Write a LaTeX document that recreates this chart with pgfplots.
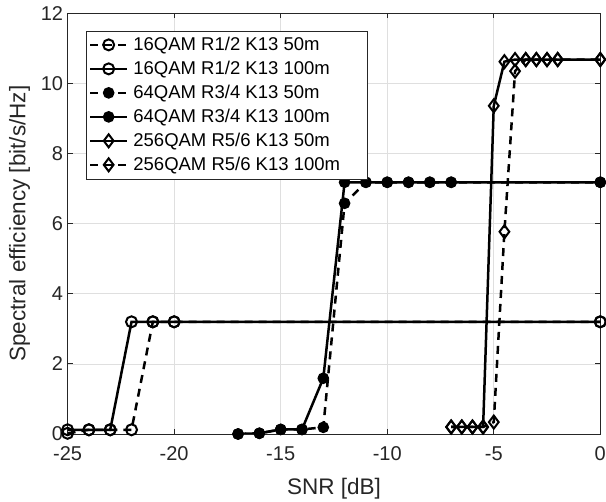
\documentclass[border=0pt]{standalone}
\usepackage{fontspec}
\setmainfont{Liberation Sans}
\usepackage{pgfplots}
\pgfplotsset{compat=1.18}
\definecolor{axgray}{RGB}{38,38,38}
\definecolor{gridgray}{RGB}{223,223,223}

\begin{document}
\begin{tikzpicture}
\begin{axis}[
  scale only axis, width=532.7pt, height=420.7pt,
  xmin=-25, xmax=0, ymin=0, ymax=12,
  xtick={-25,-20,...,0}, ytick={0,2,...,12},
  grid=major, major grid style={gridgray, line width=0.7pt},
  axis line style={axgray, line width=0.8pt},
  tick style={axgray, line width=0.8pt}, major tick length=5pt,
  tick align=inside,
  ticklabel style={font=\fontsize{20}{23}\selectfont, text=axgray},
  xticklabel style={yshift=-9pt},
  yticklabel style={xshift=-1pt},
  /pgf/number format/assume math mode=true,
  xlabel={SNR [dB]}, ylabel={Spectral efficiency [bit/s/Hz]},
  label style={font=\fontsize{22.5}{26}\selectfont, text=axgray},
  xlabel style={yshift=-11pt},
  ylabel shift=4pt,
  legend style={at={(0.034,0.9587)}, anchor=north west,
    font=\fontsize{18.5}{21}\selectfont, draw=axgray, text=black,
    inner xsep=3pt, inner ysep=2pt,
    nodes={text height=15.5pt, text depth=3.5pt, inner ysep=2.5pt},
    /tikz/every odd column/.append style={column sep=3pt}},
  legend cell align=left,
  legend image code/.code={\draw[mark repeat=2, mark phase=2, #1]
    plot coordinates {(0pt,0pt) (18.5pt,0pt) (37pt,0pt)};},
  every axis plot/.append style={black, line width=2.5pt, mark options={solid, line width=2pt}},
]
\addplot[dash pattern=on 8pt off 6pt, mark=o, mark size=5.5pt] coordinates {
  (-25,0.02) (-24,0.12) (-23,0.12) (-22,0.12) (-21,3.2) (-20,3.2) (0,3.2)};
\addlegendentry{16QAM R1/2 K13 50m}
\addplot[mark=o, mark size=5.5pt] coordinates {
  (-25,0.12) (-24,0.12) (-23,0.12) (-22,3.2) (-21,3.2) (-20,3.2) (0,3.2)};
\addlegendentry{16QAM R1/2 K13 100m}
\addplot[dash pattern=on 8pt off 6pt, mark=*, mark size=4.8pt] coordinates {
  (-17,0.0) (-16,0.02) (-15,0.13) (-14,0.13) (-13,0.19) (-12,6.58) (-11,7.18)
  (-10,7.18) (-9,7.18) (-8,7.18) (-7,7.18) (0,7.18)};
\addlegendentry{64QAM R3/4 K13 50m}
\addplot[mark=*, mark size=4.8pt] coordinates {
  (-17,0.0) (-16,0.02) (-15,0.13) (-14,0.13) (-13,1.59) (-12,7.18) (-11,7.18)
  (-10,7.18) (-9,7.18) (-8,7.18) (-7,7.18) (0,7.18)};
\addlegendentry{64QAM R3/4 K13 100m}
\addplot[mark=diamond, mark size=6.5pt] coordinates {
  (-7,0.2) (-6.5,0.2) (-6,0.2) (-5.5,0.2) (-5,9.36) (-4.5,10.62) (-4,10.68)
  (-3.5,10.68) (-3,10.68) (-2.5,10.68) (-2,10.68) (0,10.68)};
\addlegendentry{256QAM R5/6 K13 50m}
\addplot[dash pattern=on 8pt off 6pt, mark=diamond, mark size=6.5pt] coordinates {
  (-7,0.2) (-6.5,0.2) (-6,0.2) (-5.5,0.2) (-5,0.34) (-4.5,5.77) (-4,10.35)
  (-3.5,10.68) (-3,10.68) (-2.5,10.68) (-2,10.68) (0,10.68)};
\addlegendentry{256QAM R5/6 K13 100m\hspace{22pt}\mbox{}}
\end{axis}
\pgfresetboundingbox
\path[use as bounding box] (-67.6pt,-68pt) rectangle (538.4pt,434pt);
\end{tikzpicture}
\end{document}
